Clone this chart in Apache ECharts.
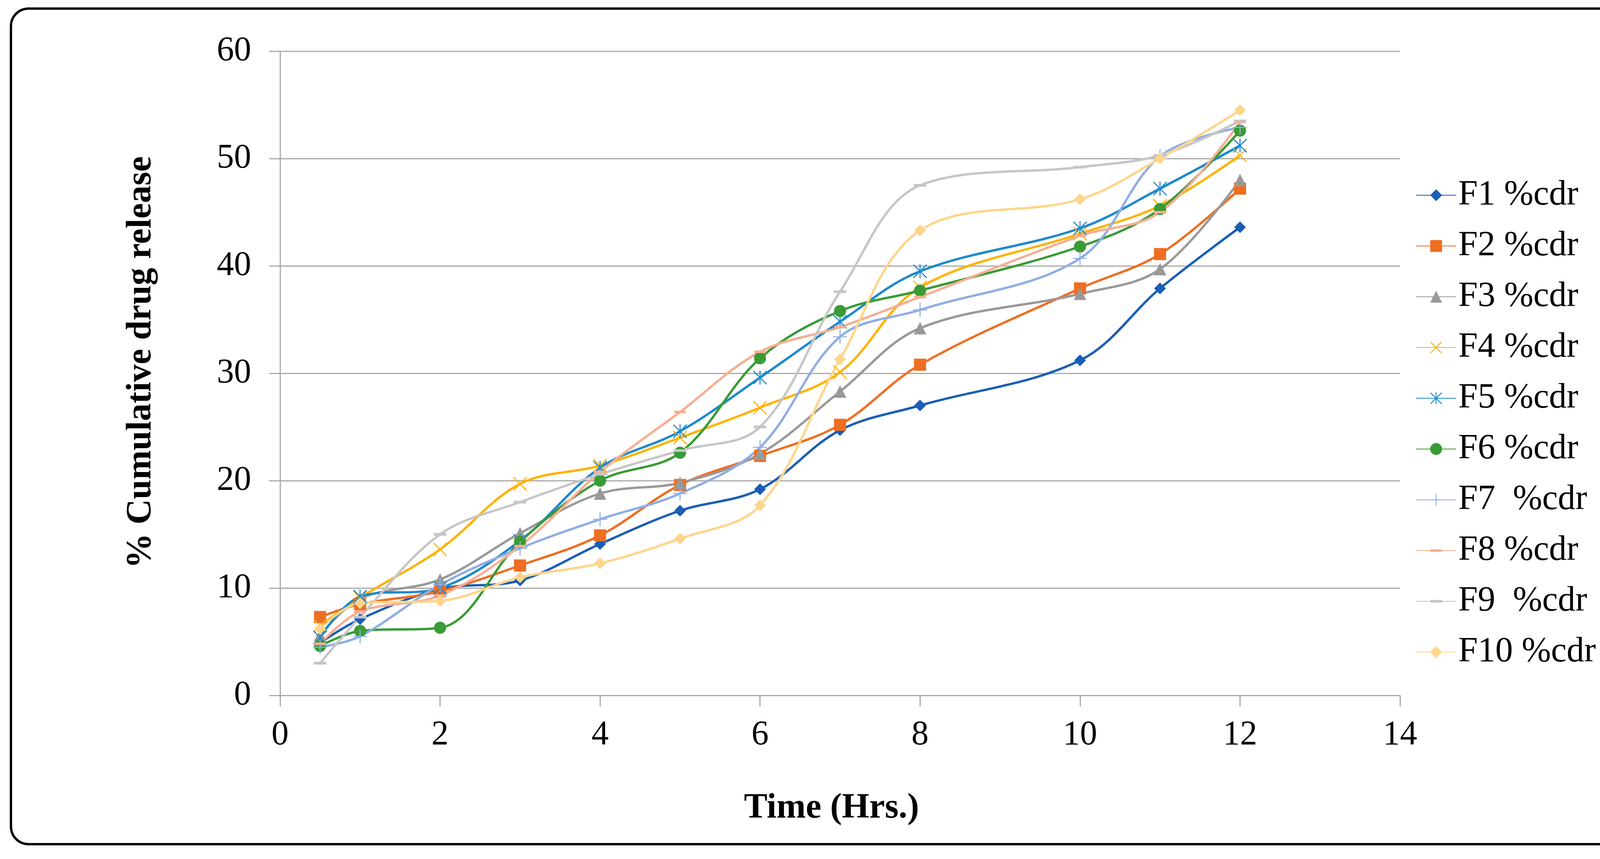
<!DOCTYPE html>
<html><head><meta charset="utf-8">
<script src="https://cdn.jsdelivr.net/npm/echarts@6/dist/echarts.min.js"></script>
<style>html,body{margin:0;padding:0;background:#fff}#c{width:4312px;height:2200px}</style>
</head><body><div id="c"></div>
<script>
// ---- data ----
const timeHrs = [0.5, 1, 2, 3, 4, 5, 6, 7, 8, 10, 11, 12];
const seriesNames = ['F1 %cdr', 'F2 %cdr', 'F3 %cdr', 'F4 %cdr', 'F5 %cdr', 'F6 %cdr', 'F7  %cdr', 'F8 %cdr', 'F9  %cdr', 'F10 %cdr'];
const f1  = [4.9, 7.1, 9.9, 10.7, 14.1, 17.2, 19.2, 24.7, 27.0, 31.2, 37.9, 43.6];
const f2  = [7.3, 8.5, 9.7, 12.1, 14.9, 19.6, 22.3, 25.2, 30.8, 37.9, 41.1, 47.2];
const f3  = [5.6, 9.0, 10.8, 15.1, 18.8, 19.8, 22.5, 28.3, 34.2, 37.4, 39.7, 48.0];
const f4  = [6.5, 9.1, 13.6, 19.7, 21.4, 24.0, 26.8, 30.1, 38.0, 43.0, 45.6, 50.3];
const f5  = [5.4, 9.2, 10.0, 14.4, 21.2, 24.6, 29.6, 34.8, 39.5, 43.5, 47.2, 51.2];
const f6  = [4.6, 6.0, 6.3, 14.3, 20.0, 22.6, 31.4, 35.8, 37.7, 41.8, 45.3, 52.6];
const f7  = [4.5, 5.5, 10.3, 13.7, 16.4, 18.8, 23.1, 33.4, 35.9, 40.7, 50.2, 52.9];
const f8  = [4.8, 7.8, 9.3, 13.9, 20.8, 26.4, 32.0, 34.3, 37.1, 42.8, 45.0, 53.4];
const f9  = [3.0, 7.3, 15.0, 18.0, 20.6, 22.8, 25.0, 37.6, 47.5, 49.2, 50.3, 53.5];
const f10 = [6.2, 8.6, 8.8, 11.0, 12.3, 14.6, 17.7, 31.3, 43.3, 46.2, 50.0, 54.5];
const allValues = [f1, f2, f3, f4, f5, f6, f7, f8, f9, f10];

// ---- styles ----
const colors = ['#1a5eb5', '#ee6e22', '#999999', '#fdb300', '#1d8acb', '#3a9b35', '#8faee3', '#f8ae92', '#c6c6c6', '#fed58a'];
const SQ = 'M0,0 M20,20 ';
const X_PATH = 'M1.1,0 L10,8.9 L18.9,0 L20,1.1 L11.1,10 L20,18.9 L18.9,20 L10,11.1 L1.1,20 L0,18.9 L8.9,10 L0,1.1 Z';
const BAR_V = 'M9.25,0 H10.75 V20 H9.25 Z';
const PLUS = 'M9.25,0 H10.75 V9.25 H20 V10.75 H10.75 V20 H9.25 V10.75 H0 V9.25 H9.25 Z';
const DASH = 'M0,7.8 H20 V12.2 H0 Z';
const symbols = ['diamond', 'rect', 'triangle', 'path://' + SQ + X_PATH, 'path://' + SQ + X_PATH + ' ' + BAR_V,
  'circle', 'path://' + SQ + PLUS, 'path://' + SQ + DASH, 'path://' + SQ + DASH, 'diamond'];
const symbolSizes = [30, 31, 32, 36, 36, 31, 36, 30, 32, 30];

const FONT = 'Liberation Serif';
const axisColor = '#a9a9a9';

const chart = echarts.init(document.getElementById('c'), null, {renderer: 'canvas', devicePixelRatio: 1});

const series = seriesNames.map((name, i) => ({
  name: name,
  type: 'line',
  smooth: 0.35,
  data: timeHrs.map((t, j) => [t, allValues[i][j]]),
  symbol: symbols[i],
  symbolSize: symbolSizes[i],
  showSymbol: true,
  lineStyle: {color: colors[i], width: 6},
  itemStyle: {color: colors[i]},
  emphasis: {disabled: true},
  animation: false
}));

chart.setOption({
  animation: false,
  backgroundColor: '#ffffff',
  graphic: [{
    type: 'rect',
    shape: {x: 28, y: 22, width: 4256, height: 2140, r: 45},
    style: {fill: 'none', stroke: '#000', lineWidth: 6},
    silent: true
  }],
  grid: {left: 717, right: 728, top: 131, bottom: 419, containLabel: false},
  legend: {
    orient: 'vertical',
    left: 3624,
    top: 455,
    padding: 0,
    itemWidth: 103,
    itemHeight: 38,
    itemGap: 40,
    textStyle: {fontFamily: FONT, fontSize: 90, color: '#000'},
    data: seriesNames
  },
  xAxis: {
    type: 'value',
    min: 0, max: 14, interval: 2,
    axisLine: {show: true, lineStyle: {color: axisColor, width: 3}},
    axisTick: {show: true, length: 28, lineStyle: {color: axisColor, width: 3}},
    splitLine: {show: false},
    axisLabel: {fontFamily: FONT, fontSize: 88, color: '#000', margin: 58},
    name: 'Time (Hrs.)',
    nameLocation: 'middle',
    nameGap: 245,
    nameTextStyle: {fontFamily: FONT, fontSize: 90, fontWeight: 'bold', color: '#000', padding: [0, 44, 0, 0]}
  },
  yAxis: {
    type: 'value',
    min: 0, max: 60, interval: 10,
    axisLine: {show: true, lineStyle: {color: axisColor, width: 3}},
    axisTick: {show: true, length: 28, lineStyle: {color: axisColor, width: 3}},
    splitLine: {show: true, lineStyle: {color: axisColor, width: 3}},
    axisLabel: {fontFamily: FONT, fontSize: 88, color: '#000', margin: 74},
    name: '% Cumulative drug release',
    nameLocation: 'middle',
    nameRotate: 90,
    nameGap: 310,
    nameTextStyle: {fontFamily: FONT, fontSize: 90, fontWeight: 'bold', color: '#000', padding: [0, 0, 0, 56]}
  },
  series: series
});
</script>
</body></html>
